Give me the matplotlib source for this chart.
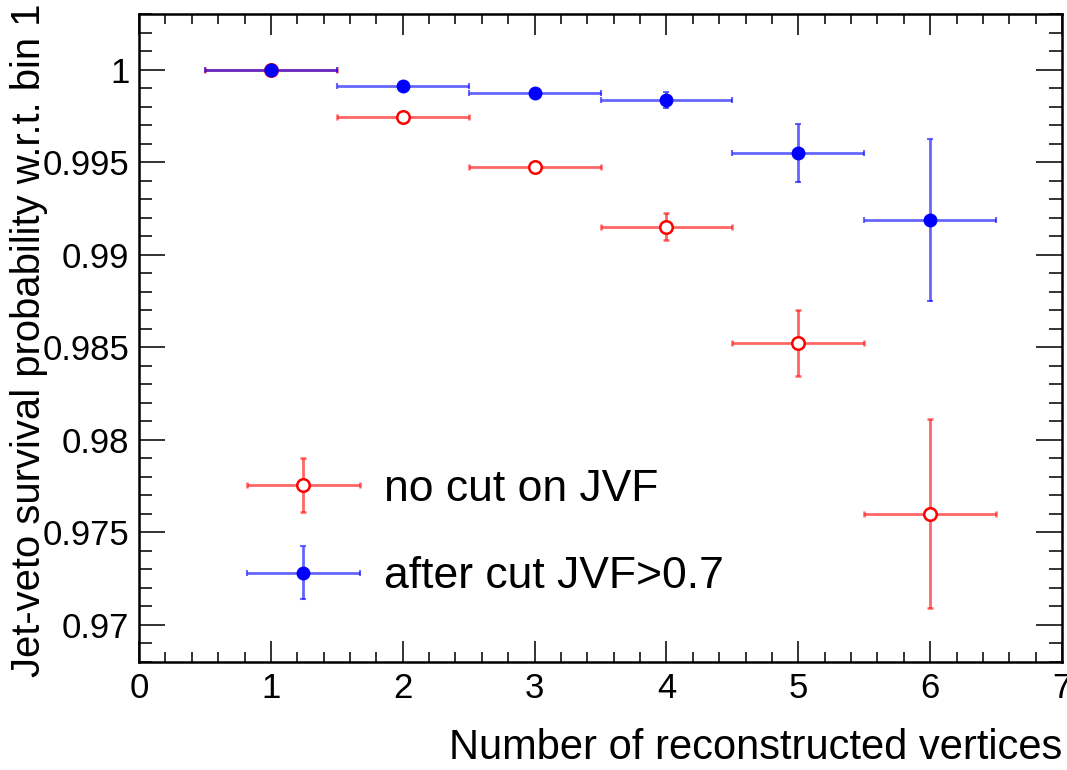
import numpy as np
import matplotlib
matplotlib.use("Agg")
import matplotlib.pyplot as plt
from matplotlib.container import ErrorbarContainer
from matplotlib.legend_handler import HandlerErrorbar
from matplotlib.ticker import MultipleLocator

plt.rcParams['font.family'] = ['Liberation Sans', 'DejaVu Sans']

# data
nvtx = [1, 2, 3, 4, 5, 6]
xerr = [0.5, 0.5, 0.5, 0.5, 0.5, 0.5]
nocut = [1.0, 0.99745, 0.99475, 0.99150, 0.98522, 0.97601]
nocut_err = [0.0, 0.0001, 0.0001, 0.00073, 0.00179, 0.0051]
jvf = [1.0, 0.99910, 0.99876, 0.99838, 0.99547, 0.99188]
jvf_err = [0.0, 0.0001, 0.0001, 0.00043, 0.00157, 0.00437]

fig = plt.figure(figsize=(10.67, 7.7), dpi=100)
ax = fig.add_axes([0.1303, 0.1403, 0.865, 0.8415])

red_line = (1, 0, 0, 0.6)
blue_line = (0, 0, 1, 0.6)

h1 = ax.errorbar(nvtx, nocut, xerr=xerr, yerr=nocut_err, fmt='o', ms=9,
                 mfc='white', mec='red', mew=1.8, ecolor=red_line,
                 elinewidth=2, capsize=2.5, capthick=1.5,
                 label='no cut on JVF', zorder=3)
h2 = ax.errorbar(nvtx, jvf, xerr=xerr, yerr=jvf_err, fmt='o', ms=9,
                 mfc='blue', mec='blue', ecolor=blue_line,
                 elinewidth=2, capsize=2.5, capthick=1.5,
                 label='after cut JVF>0.7', zorder=4)

ax.set_xlim(0, 7)
ax.set_ylim(0.968, 1.003)

ax.xaxis.set_major_locator(MultipleLocator(1))
ax.xaxis.set_minor_locator(MultipleLocator(0.2))
ax.yaxis.set_major_locator(MultipleLocator(0.005))
ax.yaxis.set_minor_locator(MultipleLocator(0.001))
ax.yaxis.set_major_formatter(plt.FuncFormatter(lambda v, p: ('%g' % round(v, 4))))

ax.tick_params(which='both', direction='in', top=True, right=True,
               width=1.4, color='#333333', labelsize=25, pad=7)
ax.tick_params(axis='x', which='major', length=15)
ax.tick_params(axis='x', which='minor', length=7.5)
ax.tick_params(axis='y', which='major', length=18.5)
ax.tick_params(axis='y', which='minor', length=9.5)
for s in ax.spines.values():
    s.set_linewidth(1.8)

fig.text(0.9953, 0.003, 'Number of reconstructed vertices', fontsize=30,
         ha='right', va='bottom')
fig.text(0.027, 0.995, 'Jet-veto survival probability w.r.t. bin 1',
         fontsize=28.8, rotation=90, ha='center', va='top')

ax.legend(handles=[h1, h2], loc='upper left', bbox_to_anchor=(0.073, 0.36),
          frameon=False, fontsize=32, handlelength=2.55, handletextpad=0.55,
          labelspacing=1.05,
          handler_map={ErrorbarContainer: HandlerErrorbar(xerr_size=1.27, yerr_size=0.6)})

fig.savefig('out.png', dpi=100)
